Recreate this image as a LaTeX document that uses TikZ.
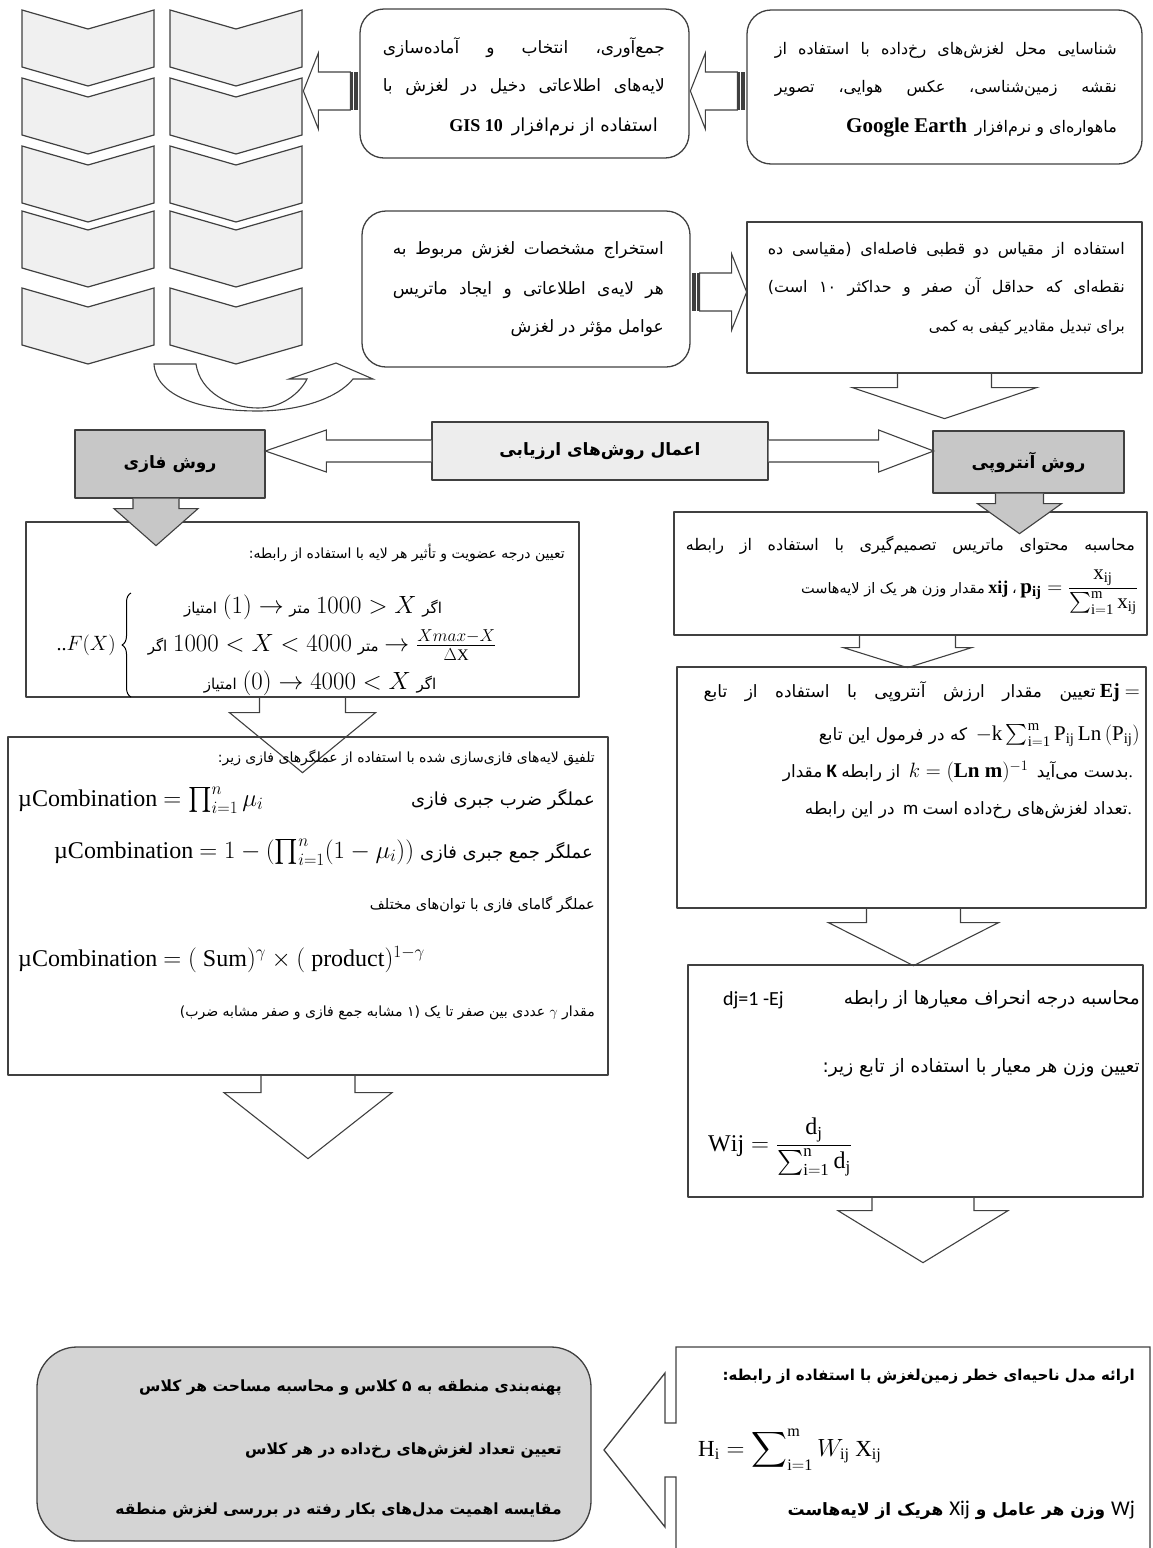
\documentclass[tikz,border=0pt]{standalone}
\usepackage{exscale}
\usepackage{fontspec}
\usetikzlibrary{decorations.pathreplacing}
\setmainfont{Liberation Serif}
\newfontfamily\farsi[Script=Arabic]{DejaVu Sans}
\newfontfamily\calibri{Carlito}
\TeXXeTstate=1
\newcommand{\fz}[1]{\fontsize{#1}{#1}\selectfont}
\newcommand{\fa}[1]{{\farsi\beginR #1\endR}}
\newcommand{\lr}[1]{\beginL{#1}\endL}
\newcommand{\jline}[2]{\hbox to #1{\farsi #2}}
% down block arrow: style, start, shaft half width, shaft length, head half width, head length
\newcommand{\dnblk}[6]{\draw[#1] (#2) ++(-#3,0) -- ++(0,#4) -- ++(#3-#5,0) -- ++(#5,#6) -- ++(#5,-#6) -- ++(#3-#5,0) -- ++(0,-#4);}
% striped block arrow: tail point, direction (1 right, -1 left)
\newcommand{\stripblk}[2]{%
  \begin{scope}[shift={(#1)}, xscale=#2]
    \fill[black!75] (1,-19) rectangle (5,19);
    \fill[black!75] (6.5,-19) rectangle (8,19);
    \draw[blk] (9,-19) -- (41,-19) -- (41,-38) -- (56,0) -- (41,38) -- (41,19) -- (9,19) -- cycle;
  \end{scope}}
\tikzset{
  boxline/.style={draw=black!75, line width=1.3pt},
  rbox/.style={boxline, rounded corners=24pt, inner sep=0pt},
  sbox/.style={boxline, inner sep=0pt},
  gbox/.style={sbox, fill=black!22},
  mbox/.style={sbox, fill=black!7},
  blk/.style={draw=black!75, line width=1.1pt, line join=miter},
  gblk/.style={blk, fill=black!22},
  chev/.style={draw=black!75, line width=1.2pt, fill=black!6, line join=miter},
  txt/.style={inner sep=0pt},
}
\begin{document}
\begin{tikzpicture}[x=1pt, y=-1pt, line join=round, font=\fz{16}]
\useasboundingbox (0,0) rectangle (1152,1548);

% chevrons
\foreach \xl in {22,170}
  \foreach \yt in {10,78,146,211,288}
    \draw[chev] (\xl,\yt) -- ++(66,19) -- ++(66,-19) -- ++(0,57) -- ++(-66,19) -- ++(-66,-19) -- cycle;
\draw[blk, fill=white] (154,364) -- (196,364) .. controls (200,392) and (230,408) .. (258,408)
  .. controls (282,408) and (300,393) .. (307,379) -- (289,379) -- (336,363) -- (373,379) -- (353,379)
  .. controls (338,398) and (300,411) .. (258,411) .. controls (200,411) and (156,396) .. (154,364) -- cycle;

% boxes
\node[rbox, minimum width=329pt, minimum height=149pt] (A) at (524.5,83.5) {};
\node[rbox, minimum width=395pt, minimum height=154pt] (B) at (944.5,87) {};
\node[rbox, minimum width=328pt, minimum height=156pt] (C) at (526,289) {};
\node[sbox, minimum width=395pt, minimum height=151pt] (D) at (944.5,297.5) {};
\node[mbox, minimum width=336pt, minimum height=58pt, font=\fz{17}] (mid) at (600,451)
  {\fa{\bfseries اعمال روش‌های ارزیابی}};
\node[gbox, minimum width=190pt, minimum height=68pt, font=\fz{17}] (fazi) at (170,464)
  {\fa{\bfseries روش فازی}};
\node[gbox, minimum width=191pt, minimum height=62pt, font=\fz{17}] (antropi) at (1028.5,462)
  {\fa{\bfseries روش آنتروپی}};
\node[sbox, minimum width=553pt, minimum height=175pt] (L1) at (302.5,609.5) {};
\node[sbox, minimum width=600pt, minimum height=338pt] (L2) at (308,906) {};
\node[sbox, minimum width=473pt, minimum height=123pt] (R1) at (910.5,573.5) {};
\node[sbox, minimum width=469pt, minimum height=241pt] (R2) at (911.5,787.5) {};
\node[sbox, minimum width=455pt, minimum height=232pt] (R3) at (915.5,1081) {};
\node[gbox, fill=black!17, rounded corners=40pt, minimum width=554pt, minimum height=194pt] (zone) at (314,1444) {};
\draw[blk, line width=1.3pt] (676,1560) -- (676,1477) -- (665,1477) -- (665,1527) -- (604,1450)
  -- (665,1373) -- (665,1423) -- (676,1423) -- (676,1347) -- (1150,1347) -- (1150,1560);

% arrows
\coordinate (ba) at ([yshift=-4pt]B.west);
\coordinate (ab) at ([yshift=-7.5pt]A.west);
\coordinate (cd) at ([yshift=-3pt]C.east);
\stripblk{ba}{-1}
\stripblk{ab}{-1}
\stripblk{cd}{1}
\dnblk{blk}{D.south}{47}{14}{92}{31}
\draw[blk, fill=white] ([yshift=11pt]mid.west) -- ++(-105,0) -- ++(0,-10) -- ++(-61,21) -- ++(61,21) -- ++(0,-10) -- ++(105,0);
\draw[blk, fill=white] ([yshift=11pt]mid.east) -- ++(110,0) -- ++(0,-10) -- ++(55,21) -- ++(-55,21) -- ++(0,-10) -- ++(-110,0);
\dnblk{gblk}{[xshift=-14pt]fazi.south}{23}{10}{42}{37}
\dnblk{gblk}{[xshift=-9pt]antropi.south}{24}{10}{42}{30}
\dnblk{blk}{[xshift=-3pt]R1.south}{48}{12}{64}{20}
\dnblk{blk}{[xshift=2pt]R2.south}{47}{14}{85}{43}
\dnblk{blk}{[xshift=7.5pt]R3.south}{51}{13}{85}{52}
\dnblk{blk}{L1.south}{43}{15}{73}{60}
\dnblk{blk}{L2.south}{47}{17}{84}{66}

% top boxes text
\node[txt, anchor=east] (b1) at (1117,50) {\jline{342pt}{\beginR شناسایی محل لغزش‌های رخ‌داده با استفاده از\endR}};
\node[txt, anchor=east] (b2) at (1117,88) {\jline{342pt}{\beginR نقشه زمین‌شناسی، عکس هوایی، تصویر\endR}};
\node[txt, anchor=east] (b3) at (1117,128) {{\fz{21}\bfseries Google Earth}\ \ \fa{ماهواره‌ای و نرم‌افزار}};
\node[txt, anchor=east, font=\fz{17}] (a1) at (665,48) {\jline{282pt}{\beginR جمع‌آوری، انتخاب و آماده‌سازی\endR}};
\node[txt, anchor=east, font=\fz{17}] (a2) at (665,87) {\jline{282pt}{\beginR لایه‌های اطلاعاتی دخیل در لغزش با\endR}};
\node[txt, anchor=east, font=\fz{18}] (a3) at (658,127) {{\fz{18}\bfseries GIS 10}\ \ \fa{استفاده از نرم‌افزار}};
\node[txt, anchor=east, font=\fz{17}] (c1) at (664,250) {\jline{271pt}{\beginR استخراج مشخصات لغزش مربوط به\endR}};
\node[txt, anchor=east, font=\fz{17}] (c2) at (664,290) {\jline{271pt}{\beginR هر لایه‌ی اطلاعاتی و ایجاد ماتریس\endR}};
\node[txt, anchor=east, font=\fz{17}] (c3) at (664,328) {\fa{عوامل مؤثر در لغزش}};
\node[txt, anchor=east] (d1) at (1125,250) {\jline{357pt}{\beginR استفاده از مقیاس دو قطبی فاصله‌ای (مقیاسی ده\endR}};
\node[txt, anchor=east] (d2) at (1125,287) {\jline{357pt}{\beginR نقطه‌ای که حداقل آن صفر و حداکثر ۱۰ است)\endR}};
\node[txt, anchor=east, font=\fz{15}] (d3) at (1125,328) {\fa{برای تبدیل مقادیر کیفی به کمی}};

% fuzzy method
\node[txt, anchor=east, font=\fz{14}] (l1t) at (565,553) {\fa{تعیین درجه عضویت و تأثیر هر لایه با استفاده از رابطه:}};
\node[txt, anchor=east, font=\fz{20}] (fx) at (116,645) {..$F(X)$};
\draw[line width=1pt, decorate, decoration={brace, amplitude=9pt}] (131,697) -- (131,593);
\node[txt, font=\fz{23}] (f1) at (313,607) {{\fz{15}\fa{امتیاز}}\ $(1) \rightarrow$ {\fz{15}\fa{متر}} $1000 > X$ {\fz{15}\fa{اگر}}};
\node[txt, font=\fz{23}] (f2) at (322,645) {{\fz{15}\fa{اگر}} $1000 < X < 4000$ {\fz{15}\fa{متر}} $\rightarrow \frac{Xmax-X}{\Delta\mathrm{X}}$};
\node[txt, font=\fz{23}] (f3) at (320,683) {{\fz{15}\fa{امتیاز}}\ $(0) \rightarrow 4000 < X$ {\fz{15}\fa{اگر}}};

\node[txt, anchor=east, font=\fz{14}] (l2t) at (595,758) {\fa{تلفیق لایه‌های فازی‌سازی شده با استفاده از عملگرهای فازی زیر:}};
\node[txt, anchor=west, font=\fz{24}] (m1) at (18,800) {µCombination $= \prod_{i=1}^{n} \mu_i$};
\node[txt, anchor=east, font=\fz{18}] (o1) at (595,800) {\fa{عملگر ضرب جبری فازی}};
\node[txt, anchor=east, font=\fz{24}] (m2) at (593,852) {µCombination $= 1 - (\prod_{i=1}^{n}(1-\mu_i))$\ {\fz{18}\fa{عملگر جمع جبری فازی}}};
\node[txt, anchor=east, font=\fz{14.5}] (o3) at (595,905) {\fa{عملگر گامای فازی با توان‌های مختلف}};
\node[txt, anchor=west, font=\fz{24}] (m4) at (18,960) {µCombination $= (\ \mathrm{Sum})^{\gamma} \times (\ \mathrm{product})^{1-\gamma}$};
\node[txt, anchor=east, font=\fz{14}] (o5) at (595,1013) {\fa{مقدار \lr{$\gamma$} عددی بین صفر تا یک (۱ مشابه جمع فازی و صفر مشابه ضرب)}};

% entropy method
\node[txt, anchor=east, font=\fz{16}] (r1a) at (1135,545) {\jline{449pt}{\beginR محاسبه محتوای ماتریس تصمیم‌گیری با استفاده از رابطه\endR}};
\node[txt, anchor=east, font=\fz{14.5}] (r1b) at (1138,592) {\fa{مقدار وزن هر یک از لایه‌هاست}\ {\fz{18}\bfseries xij}\ \fa{،}\ 
  {\fz{21}$\mathbf{p_{ij}} = \displaystyle\frac{\mathrm{x_{ij}}}{\textstyle\sum_{\mathrm{i=1}}^{\mathrm{m}} \mathrm{x_{ij}}}$}};
\node[txt, anchor=east, font=\fz{17}] (r2a) at (1140,692) {\jline{392pt}{\beginR تعیین مقدار ارزش آنتروپی با استفاده از تابع\endR}\ {\fz{20}\bfseries Ej $=$}};
\node[txt, anchor=east, font=\fz{17}] (r2b) at (1140,735) {\fa{که در فرمول این تابع}\ \ {\fz{21}$-\mathrm{k}\sum_{\mathrm{i=1}}^{\mathrm{m}} \mathrm{P_{ij}}\,\mathrm{Ln}\left(\mathrm{P_{ij}}\right)$}};
\node[txt, anchor=east, font=\fz{17}] (r2c) at (1133,772) {\fa{مقدار}\ {\calibri\fz{19}\bfseries K}\ \fa{از رابطه}\ \ {\fz{21}$k = (\mathbf{Ln\ m})^{-1}$}\ \ \fa{بدست می‌آید}.};
\node[txt, anchor=east, font=\fz{17}] (r2d) at (1132,810) {\fa{در این رابطه}\ {\calibri\fz{19} m}\ \fa{تعداد لغزش‌های رخ‌داده است}.};
\node[txt, anchor=west, font=\fz{20}] (r3e) at (723,1000) {\calibri dj=1 -Ej};
\node[txt, anchor=east, font=\fz{18.5}] (r3a) at (1140,1000) {\fa{محاسبه درجه انحراف معیارها از رابطه}};
\node[txt, anchor=east, font=\fz{18.5}] (r3b) at (1140,1068) {\fa{تعیین وزن هر معیار با استفاده از تابع زیر:}};
\node[txt, anchor=west, font=\fz{24}] (r3c) at (708,1147) {$\mathrm{Wij} = \displaystyle\frac{\mathrm{d_j}}{\textstyle\sum_{\mathrm{i=1}}^{\mathrm{n}} \mathrm{d_j}}$};

% zoning and hazard model
\node[txt, anchor=east, font=\fz{15.5}] (g1) at (562,1387) {\fa{\bfseries پهنه‌بندی منطقه به ۵ کلاس و محاسبه مساحت هر کلاس}};
\node[txt, anchor=east, font=\fz{15.5}] (g2) at (562,1450) {\fa{\bfseries تعیین تعداد لغزش‌های رخ‌داده در هر کلاس}};
\node[txt, anchor=east, font=\fz{15.5}] (g3) at (562,1510) {\fa{\bfseries مقایسه اهمیت مدل‌های بکار رفته در بررسی لغزش منطقه}};
\node[txt, anchor=east, font=\fz{15}] (h1) at (1135,1377) {\fa{\bfseries ارائه مدل ناحیه‌ای خطر زمین‌لغزش با استفاده از رابطه:}};
\node[txt, anchor=west, font=\fz{23}] (h2) at (698,1450) {$\mathrm{H_i} = \displaystyle\sum\nolimits_{\mathrm{i=1}}^{\mathrm{m}} W_{\mathrm{ij}}\ \mathrm{X_{ij}}$};
\node[txt, anchor=east, font=\fz{17}] (h3) at (1135,1510) {\fa{\bfseries \lr{\calibri\fz{21}\mdseries Wj} وزن هر عامل و \lr{\calibri\fz{21}\mdseries Xij} هریک از لایه‌هاست}};
\end{tikzpicture}
\end{document}
